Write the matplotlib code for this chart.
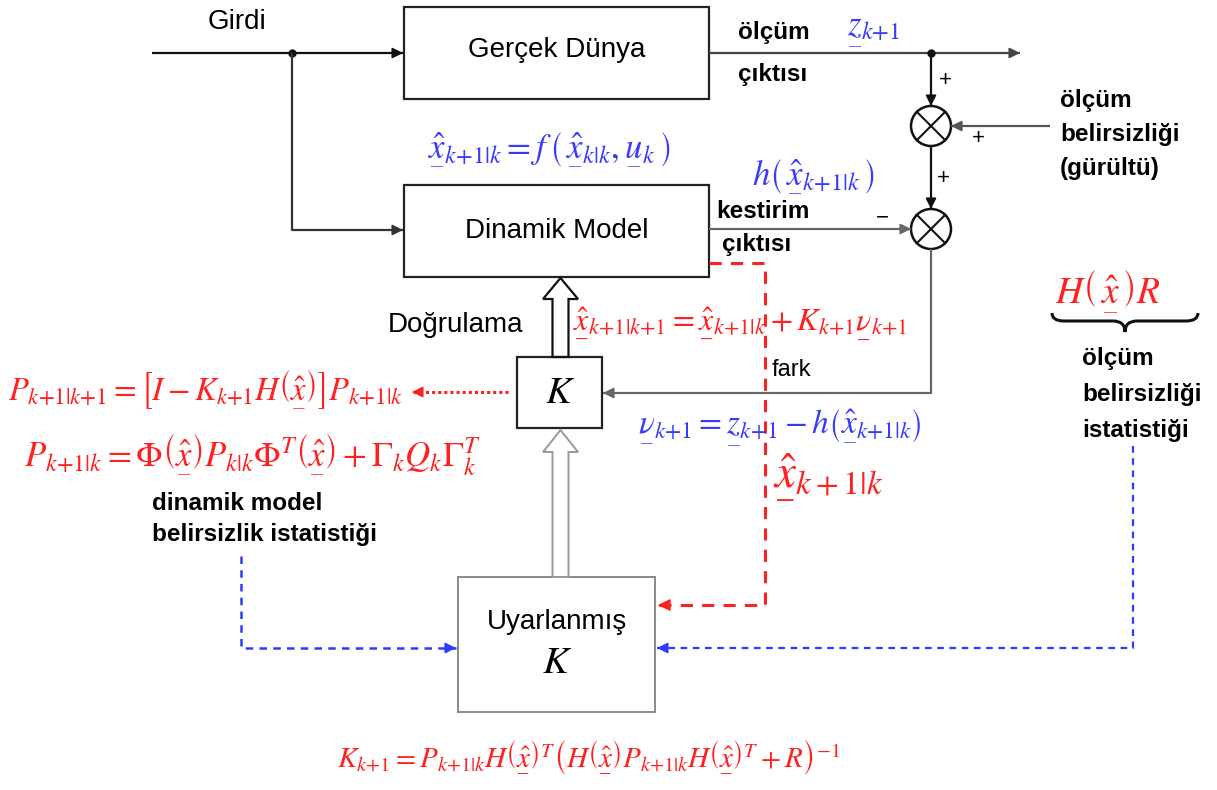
import io
import matplotlib
matplotlib.use("Agg")
import matplotlib.pyplot as plt
from matplotlib.patches import Rectangle, Circle, FancyArrow, PathPatch
from matplotlib.path import Path

plt.rcParams['mathtext.fontset'] = 'stix'
plt.rcParams['font.family'] = ['Liberation Sans', 'DejaVu Sans']


def _ok(s):
    try:
        from matplotlib.mathtext import math_to_image
        math_to_image(s, io.BytesIO(), format='png')
        return True
    except Exception:
        return False


if _ok(r'$\underline{x}$'):
    def U(s):
        return r'\underline{' + s + '}'
elif _ok(r'$\underset{\_}{x}$'):
    def U(s):
        return r'\underset{\_}{' + s + '}'
else:
    def U(s):
        return s

XH = U(r'\hat{x}')
K1 = r'k{+}1'

# ---- texts (content) ----
block_labels = ["Gerçek Dünya", "Dinamik Model"]
input_label = "Girdi"
out_labels = ["ölçüm", "çıktısı"]
est_labels = ["kestirim", "çıktısı"]
noise_labels = ["ölçüm", "belirsizliği", "(gürültü)"]
meas_stat_labels = ["ölçüm", "belirsizliği", "istatistiği"]
dyn_stat_labels = ["dinamik model", "belirsizlik istatistiği"]
verify_label = "Doğrulama"
diff_label = "fark"
adaptive_label = "Uyarlanmış"

eq_z = r'$' + U('z') + r'_{' + K1 + '}$'
eq_f = r'$' + XH + r'_{' + K1 + r'|k}=f\,\left(\,' + XH + r'_{k|k},' + U('u') + r'_k\,\right)$'
eq_h = r'$h\left(\,' + XH + r'_{' + K1 + r'|k}\,\right)$'
eq_upd = (r'$' + XH + r'_{' + K1 + '|' + K1 + '}=' + XH + r'_{' + K1 + r'|k}+K_{' + K1 + '}'
          + U(r'\nu') + r'_{' + K1 + '}$')
eq_P1 = (r'$P_{' + K1 + '|' + K1 + r'}=\left[I-K_{' + K1 + r'}H\left(' + XH +
         r'\right)\right]P_{' + K1 + r'|k}$')
eq_P2 = (r'$P_{' + K1 + r'|k}=\Phi\left(' + XH + r'\right)P_{k|k}\Phi^T\left(' + XH +
         r'\right)+\Gamma_kQ_k\Gamma_k^T$')
eq_nu = (r'$' + U(r'\nu') + r'_{' + K1 + '}=' + U('z') + r'_{' + K1 + r'}-h\left(' + XH +
         r'_{' + K1 + r'|k}\right)$')
eq_xbig = r'$' + XH + r'_{k+1|k}$'
eq_HR = r'$H\left(\,' + XH + r'\,\right)R$'
eq_K = (r'$K_{' + K1 + r'}=P_{' + K1 + r'|k}H\left(' + XH + r'\right)^T\left(H\left(' + XH +
        r'\right)P_{' + K1 + r'|k}H\left(' + XH + r'\right)^T+R\right)^{-1}$')

BLUE = '#3a3aff'
RED = '#ff2020'
DBLUE = '#2c3cff'
LINE = '#333333'
GRAY = '#8a8a8a'

fig = plt.figure(figsize=(12.17, 7.90), dpi=100)
ax = fig.add_axes([0, 0, 1, 1])
ax.set_xlim(0, 1217)
ax.set_ylim(790, 0)
ax.axis('off')


def arrow_head(p0, p1, color=LINE, ms=16):
    ax.annotate('', xy=p1, xytext=p0,
                arrowprops=dict(arrowstyle='-|>', color=color, lw=1.2,
                                mutation_scale=ms, shrinkA=0, shrinkB=0))


def polyline(pts, color=LINE, lw=1.6, ls='-', head=True, ms=16):
    xs = [p[0] for p in pts]
    ys = [p[1] for p in pts]
    ax.plot(xs, ys, color=color, lw=lw, ls=ls, solid_capstyle='butt')
    if head:
        (x0, y0), (x1, y1) = pts[-2], pts[-1]
        dx, dy = x1 - x0, y1 - y0
        n = (dx * dx + dy * dy) ** 0.5
        arrow_head((x1 - dx / n * 3, y1 - dy / n * 3), (x1, y1), color=color, ms=ms)


def box(x0, y0, x1, y1, ec='#222222', lw=1.6):
    ax.add_patch(Rectangle((x0, y0), x1 - x0, y1 - y0, fill=False, ec=ec, lw=lw))


def sumjunction(cx, cy, r=20):
    ax.add_patch(Circle((cx, cy), r, fill=False, ec='#111111', lw=1.8))
    d = r * 0.7071
    ax.plot([cx - d, cx + d], [cy - d, cy + d], color='#111111', lw=1.5)
    ax.plot([cx - d, cx + d], [cy + d, cy - d], color='#111111', lw=1.5)


# ---- blocks ----
box(404, 7, 709, 99)
box(404, 185, 709, 277)
box(517, 357, 602, 428)
box(458, 577, 655, 712, ec=GRAY, lw=1.4)
ax.text(557, 50, block_labels[0], fontsize=20, ha='center', va='center')
ax.text(557, 231, block_labels[1], fontsize=20, ha='center', va='center')
ax.text(560, 393, r'$K$', fontsize=28, ha='center', va='center')
ax.text(557, 622, adaptive_label, fontsize=20, ha='center', va='center')
ax.text(557, 663, r'$K$', fontsize=28, ha='center', va='center')

# ---- input ----
ax.text(237, 22, input_label, fontsize=20, ha='center', va='center')
polyline([(152, 53), (403, 53)], color='#111111')
ax.plot([292], [53], 'o', color='#111111', ms=5)
polyline([(292, 53), (292, 230), (403, 230)], color='#333333')

# ---- output ----
polyline([(709, 53), (1020, 53)], color='#444444')
ax.plot([931], [53], 'o', color='#111111', ms=5)
ax.text(738, 32, out_labels[0], fontsize=17.5, fontweight='bold', ha='left', va='center')
ax.text(738, 75, out_labels[1], fontsize=17.5, fontweight='bold', ha='left', va='center')
ax.text(847, 33, eq_z, fontsize=25, color=BLUE, ha='left', va='center')

# ---- summing junctions ----
sumjunction(931, 126)
sumjunction(931, 229)
polyline([(931, 53), (931, 106)], color='#111111')
polyline([(931, 146), (931, 209)], color='#111111')
polyline([(1050, 126), (951, 126)], color='#555555')
ax.text(945, 80, '+', fontsize=16, ha='center', va='center')
ax.text(978, 139, '+', fontsize=16, ha='center', va='center')
ax.text(943, 178, '+', fontsize=16, ha='center', va='center')
ax.text(882, 218, '−', fontsize=16, ha='center', va='center')
for i, s in enumerate(noise_labels):
    ax.text(1060, 100 + i * 34, s, fontsize=17.5, fontweight='bold', ha='left', va='center')

# ---- estimation output ----
polyline([(709, 229), (911, 229)], color='#666666')
ax.text(716, 212, est_labels[0], fontsize=17.5, fontweight='bold', ha='left', va='center')
ax.text(722, 244, est_labels[1], fontsize=17.5, fontweight='bold', ha='left', va='center')
ax.text(752, 177, eq_h, fontsize=25, color=BLUE, ha='left', va='center')
ax.text(428, 150, eq_f, fontsize=25, color=BLUE, ha='left', va='center')

# ---- difference feedback ----
polyline([(931, 249), (931, 393), (603, 393)], color='#666666')
ax.text(772, 370, diff_label, fontsize=17, ha='left', va='center')
ax.text(638, 428, eq_nu, fontsize=24, color=BLUE, ha='left', va='center')

# ---- red dashed path ----
polyline([(709, 263), (765, 263), (765, 605), (658, 605)], color=RED, lw=2.2,
         ls=(0, (4, 3)), ms=18)
ax.text(773, 478, eq_xbig, fontsize=34, color=RED, ha='left', va='center')
ax.text(573, 324, eq_upd, fontsize=23, color=RED, ha='left', va='center')

# ---- hollow arrows ----
ax.add_patch(FancyArrow(560.5, 357, 0, -79, width=16, head_width=35, head_length=21,
                        length_includes_head=True, fill=False, ec='#111111', lw=1.6))
ax.add_patch(FancyArrow(560.5, 577, 0, -147, width=16, head_width=35, head_length=22,
                        length_includes_head=True, fill=False, ec='#999999', lw=1.4))
ax.text(388, 325, verify_label, fontsize=20, ha='left', va='center')

# ---- covariance update ----
polyline([(508, 392), (412, 392)], color=RED, lw=2.2, ls=(0, (1, 1)), ms=16)
ax.text(8, 390, eq_P1, fontsize=23.5, color=RED, ha='left', va='center')
ax.text(24, 455, eq_P2, fontsize=25, color=RED, ha='left', va='center')
ax.text(152, 503, dyn_stat_labels[0], fontsize=17.5, fontweight='bold', ha='left', va='center')
ax.text(152, 535, dyn_stat_labels[1], fontsize=17.5, fontweight='bold', ha='left', va='center')

# ---- blue dotted statistics paths ----
polyline([(241, 556), (241, 648), (456, 648)], color=DBLUE, lw=1.8, ls=(0, (3, 2.5)), ms=16)
polyline([(1133, 446), (1133, 648), (657, 648)], color=DBLUE, lw=1.6, ls=(0, (3, 2.5)), ms=16)

# ---- measurement statistics ----
ax.text(1055, 292, eq_HR, fontsize=27, color=RED, ha='left', va='center')
x0, x1, yb = 1052, 1198, 313
xm = (x0 + x1) / 2
verts = [(x0, yb), (x0, yb + 8), (x0 + 12, yb + 8),
         (xm - 12, yb + 8), (xm, yb + 8), (xm, yb + 19),
         (xm, yb + 8), (xm + 12, yb + 8),
         (x1 - 12, yb + 8), (x1, yb + 8), (x1, yb)]
codes = [Path.MOVETO, Path.CURVE3, Path.CURVE3,
         Path.LINETO, Path.CURVE3, Path.CURVE3,
         Path.CURVE3, Path.CURVE3,
         Path.LINETO, Path.CURVE3, Path.CURVE3]
ax.add_patch(PathPatch(Path(verts, codes), fill=False, ec='#111111', lw=2.2))
for i, s in enumerate(meas_stat_labels):
    ax.text(1082, 358 + i * 36, s, fontsize=17.5, fontweight='bold', ha='left', va='center')

# ---- gain formula ----
ax.text(337, 758, eq_K, fontsize=21, color=RED, ha='left', va='center')

fig.savefig('out.png', dpi=100)
